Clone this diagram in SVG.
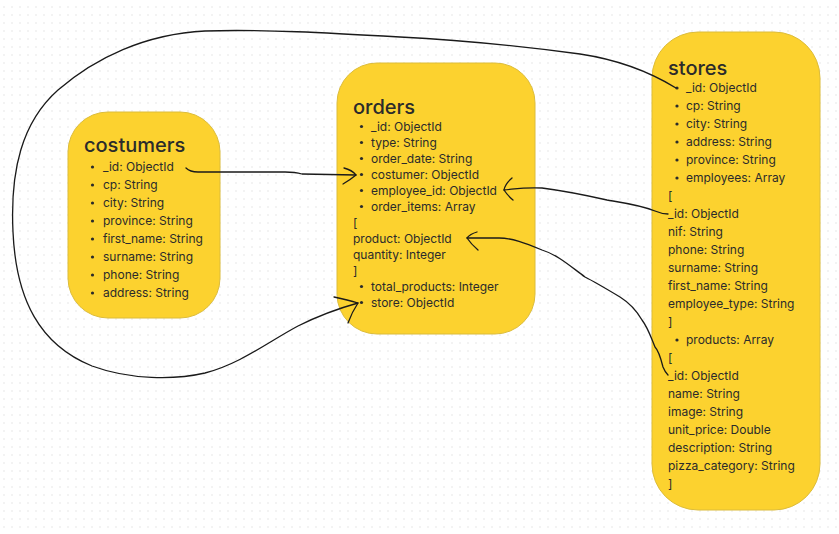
<svg xmlns="http://www.w3.org/2000/svg" width="839" height="534" viewBox="0 0 839 534">
<defs>
<pattern id="dots" x="0" y="0" width="8" height="8" patternUnits="userSpaceOnUse">
<rect x="3.2" y="6.2" width="1.6" height="1.6" fill="#ececec"/>
</pattern>
<style>
.box{fill:#FCD22F;stroke:#dcbc3a;stroke-width:1}
.t{font-family:Inter,"Liberation Sans",sans-serif;fill:#2b2b2b}
.title{font-size:20px;font-weight:500}
.it{font-size:12px}
.b{fill:#2b2b2b}
.c{fill:none;stroke:#1a1a1a;stroke-width:1.3;stroke-linecap:round;stroke-linejoin:round}
</style>
</defs>
<rect width="839" height="534" fill="#ffffff"/>
<rect width="839" height="534" fill="url(#dots)"/>

<g id="costumers">
<rect class="box" x="68" y="112" width="152" height="206" rx="40"/>
<text class="t title" x="84" y="152">costumers</text>
<g class="t it">
<text x="103" y="171">_id: ObjectId</text>
<text x="103" y="189">cp: String</text>
<text x="103" y="207">city: String</text>
<text x="103" y="225">province: String</text>
<text x="103" y="243">first_name: String</text>
<text x="103" y="261">surname: String</text>
<text x="103" y="279">phone: String</text>
<text x="103" y="297">address: String</text>
</g>
<g class="b">
<circle cx="92.5" cy="167" r="1.6"/><circle cx="92.5" cy="185" r="1.6"/><circle cx="92.5" cy="203" r="1.6"/><circle cx="92.5" cy="221" r="1.6"/><circle cx="92.5" cy="239" r="1.6"/><circle cx="92.5" cy="257" r="1.6"/><circle cx="92.5" cy="275" r="1.6"/><circle cx="92.5" cy="293" r="1.6"/>
</g>
</g>

<g id="orders">
<rect class="box" x="337" y="63" width="198" height="271" rx="40"/>
<text class="t title" x="353" y="114">orders</text>
<g class="t it">
<text x="371" y="130.5">_id: ObjectId</text>
<text x="371" y="146.5">type: String</text>
<text x="371" y="162.5">order_date: String</text>
<text x="371" y="178.5">costumer: ObjectId</text>
<text x="371" y="194.5">employee_id: ObjectId</text>
<text x="371" y="210.5">order_items: Array</text>
<text x="353" y="226.5">[</text>
<text x="353" y="242.5">product: ObjectId</text>
<text x="353" y="258.5">quantity: Integer</text>
<text x="353" y="274.5">]</text>
<text x="371" y="290.5">total_products: Integer</text>
<text x="371" y="306.5">store: ObjectId</text>
</g>
<g class="b">
<circle cx="361.5" cy="126.5" r="1.6"/><circle cx="361.5" cy="142.5" r="1.6"/><circle cx="361.5" cy="158.5" r="1.6"/><circle cx="361.5" cy="174.5" r="1.6"/><circle cx="361.5" cy="190.5" r="1.6"/><circle cx="361.5" cy="206.5" r="1.6"/><circle cx="361.5" cy="286.5" r="1.6"/><circle cx="361.5" cy="302.5" r="1.6"/>
</g>
</g>

<g id="stores">
<rect class="box" x="652" y="32" width="168" height="478" rx="46"/>
<text class="t title" x="668" y="75">stores</text>
<g class="t it">
<text x="686" y="92">_id: ObjectId</text>
<text x="686" y="110">cp: String</text>
<text x="686" y="128">city: String</text>
<text x="686" y="146">address: String</text>
<text x="686" y="164">province: String</text>
<text x="686" y="182">employees: Array</text>
<text x="668" y="200">[</text>
<text x="668" y="218">_id: ObjectId</text>
<text x="668" y="236">nif: String</text>
<text x="668" y="254">phone: String</text>
<text x="668" y="272">surname: String</text>
<text x="668" y="290">first_name: String</text>
<text x="668" y="308">employee_type: String</text>
<text x="668" y="326">]</text>
<text x="686" y="344">products: Array</text>
<text x="668" y="362">[</text>
<text x="668" y="380">_id: ObjectId</text>
<text x="668" y="398">name: String</text>
<text x="668" y="416">image: String</text>
<text x="668" y="434">unit_price: Double</text>
<text x="668" y="452">description: String</text>
<text x="668" y="470">pizza_category: String</text>
<text x="668" y="488">]</text>
</g>
<g class="b">
<circle cx="677" cy="88" r="1.6"/><circle cx="677" cy="106" r="1.6"/><circle cx="677" cy="124" r="1.6"/><circle cx="677" cy="142" r="1.6"/><circle cx="677" cy="160" r="1.6"/><circle cx="677" cy="178" r="1.6"/><circle cx="677" cy="340" r="1.6"/>
</g>
</g>

<g id="connectors">
<!-- costumers._id -> orders.costumer -->
<path class="c" d="M186 168 Q190 172 198 172 L285 172 Q295 172 302 174 L356 175"/>
<path class="c" d="M344 168 Q352 170 356 175 Q350 180 343 184"/>
<!-- stores._id -> orders.store (big loop) -->
<path class="c" d="M676 88 C650 72 620 60 580 54 C520 46 460 40 400 37 C330 33 260 29 205 31 C145 34 95 58 58 90 C22 122 10 170 13 232 C16 300 40 345 92 366 C130 380 175 380 205 373 C240 364 268 342 298 326 C318 316 340 308 358 303"/>
<path class="c" d="M334 297 Q348 300 358 303 Q352 312 348 323"/>
<!-- stores employees._id -> orders.employee_id -->
<path class="c" d="M668 214 Q662 214 655 211 C640 205 625 203 607 200 C585 195 565 191 542 188 C525 187 515 189 504 190"/>
<path class="c" d="M512 178 Q505 184 504 190 Q508 196 513 200"/>
<!-- stores products._id -> orders.product -->
<path class="c" d="M668 375 Q665 372 663 367 C660 355 658 350 655 347 C650 335 648 328 642 320 C635 308 628 302 620 297 C605 288 595 282 585 277 C570 266 558 255 542 250 C525 243 512 238 499 238 L467 238"/>
<path class="c" d="M477 232 Q470 234 467 238 Q471 244 478 250"/>
</g>
</svg>
